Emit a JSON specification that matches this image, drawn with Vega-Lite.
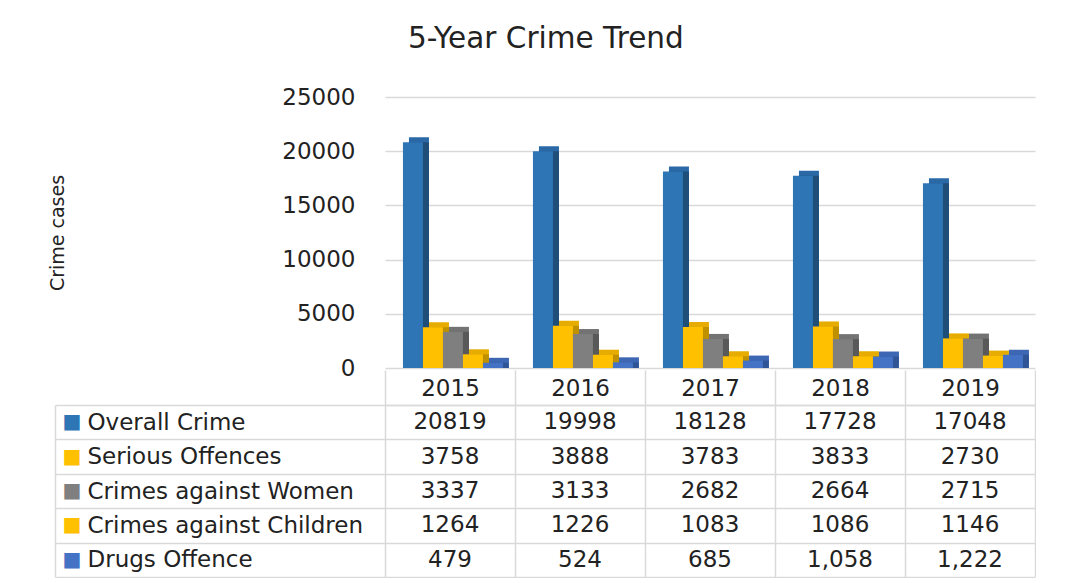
{
  "$schema": "https://vega.github.io/schema/vega-lite/v6.json",
  "background": "white",
  "padding": {"left": 48, "top": 23, "right": 0, "bottom": 0},
  "config": {"font": "DejaVu Sans", "view": {"stroke": null}},
  "title": {"text": "5-Year Crime Trend", "fontSize": 29.5, "fontWeight": "normal", "color": "#222222", "anchor": "middle", "offset": 32, "dx": 4},
  "data": {"values": [
    {"year": "2015", "series": "Overall Crime", "value": 20819},
    {"year": "2016", "series": "Overall Crime", "value": 19998},
    {"year": "2017", "series": "Overall Crime", "value": 18128},
    {"year": "2018", "series": "Overall Crime", "value": 17728},
    {"year": "2019", "series": "Overall Crime", "value": 17048},
    {"year": "2015", "series": "Serious Offences", "value": 3758},
    {"year": "2016", "series": "Serious Offences", "value": 3888},
    {"year": "2017", "series": "Serious Offences", "value": 3783},
    {"year": "2018", "series": "Serious Offences", "value": 3833},
    {"year": "2019", "series": "Serious Offences", "value": 2730},
    {"year": "2015", "series": "Crimes against Women", "value": 3337},
    {"year": "2016", "series": "Crimes against Women", "value": 3133},
    {"year": "2017", "series": "Crimes against Women", "value": 2682},
    {"year": "2018", "series": "Crimes against Women", "value": 2664},
    {"year": "2019", "series": "Crimes against Women", "value": 2715},
    {"year": "2015", "series": "Crimes against Children", "value": 1264},
    {"year": "2016", "series": "Crimes against Children", "value": 1226},
    {"year": "2017", "series": "Crimes against Children", "value": 1083},
    {"year": "2018", "series": "Crimes against Children", "value": 1086},
    {"year": "2019", "series": "Crimes against Children", "value": 1146},
    {"year": "2015", "series": "Drugs Offence", "value": 479},
    {"year": "2016", "series": "Drugs Offence", "value": 524},
    {"year": "2017", "series": "Drugs Offence", "value": 685},
    {"year": "2018", "series": "Drugs Offence", "value": 1058},
    {"year": "2019", "series": "Drugs Offence", "value": 1222}
  ]},
  "bounds": "flush",
  "spacing": 37,
  "resolve": {"scale": {"color": "independent", "fill": "independent"}, "legend": {"color": "independent", "fill": "independent"}},
  "vconcat": [
    {
      "width": 650,
      "height": 271,
      "resolve": {"scale": {"fill": "independent", "xOffset": "independent"}},
      "encoding": {
        "x": {"field": "year", "type": "ordinal", "scale": {"paddingInner": 0.23, "paddingOuter": 0.115}, "axis": null},
        "y": {"field": "value", "type": "quantitative", "scale": {"domain": [0, 25000], "nice": false},
          "axis": {"values": [0, 5000, 10000, 15000, 20000, 25000], "format": "d", "ticks": false, "domain": false, "labelPadding": 30, "labelFontSize": 23, "labelColor": "#222222", "gridColor": "#d9d9d9", "gridWidth": 1.5,
            "title": "Crime cases", "titleFontSize": 19, "titleFontWeight": "normal", "titleColor": "#222222", "titleX": -318}}
      },
      "layer": [
        {
          "mark": {"type": "bar", "yOffset": -5},
          "encoding": {
            "xOffset": {"field": "series", "type": "nominal", "sort": ["Overall Crime", "Serious Offences", "Crimes against Women", "Crimes against Children", "Drugs Offence"], "scale": {"range": [9, 109], "paddingInner": 0, "paddingOuter": 0}},
            "fill": {"field": "series", "type": "nominal", "scale": {"domain": ["Overall Crime", "Serious Offences", "Crimes against Women", "Crimes against Children", "Drugs Offence"], "range": ["#2a69a6", "#e6ad00", "#737373", "#e6ad00", "#3d66b3"]}, "legend": null}
          }
        },
        {
          "mark": {"type": "bar"},
          "encoding": {
            "xOffset": {"field": "series", "type": "nominal", "sort": ["Overall Crime", "Serious Offences", "Crimes against Women", "Crimes against Children", "Drugs Offence"], "scale": {"range": [9, 109], "paddingInner": 0, "paddingOuter": 0}},
            "fill": {"field": "series", "type": "nominal", "scale": {"domain": ["Overall Crime", "Serious Offences", "Crimes against Women", "Crimes against Children", "Drugs Offence"], "range": ["#1f4e79", "#bf9000", "#595959", "#bf9000", "#2f5597"]}, "legend": null}
          }
        },
        {
          "mark": {"type": "bar"},
          "encoding": {
            "xOffset": {"field": "series", "type": "nominal", "sort": ["Overall Crime", "Serious Offences", "Crimes against Women", "Crimes against Children", "Drugs Offence"], "scale": {"range": [3, 103], "paddingInner": 0, "paddingOuter": 0}},
            "color": {"field": "series", "type": "nominal", "scale": {"domain": ["Overall Crime", "Serious Offences", "Crimes against Women", "Crimes against Children", "Drugs Offence"], "range": ["#2e75b6", "#ffc000", "#7f7f7f", "#ffc000", "#4472c4"]}, "legend": null}
          }
        }
      ]
    },
    {
      "width": 650,
      "height": 172,
      "resolve": {"axis": {"y": "independent"}},
      "encoding": {
        "x": {"field": "year", "type": "ordinal", "scale": {"paddingInner": 0, "paddingOuter": 0},
          "axis": {"orient": "top", "title": null, "labelAngle": 0, "labelFontSize": 23, "labelColor": "#222222", "labelPadding": -18, "labelBaseline": "middle", "tickBand": "extent", "tickSize": 35, "tickColor": "#d9d9d9", "tickWidth": 1.5, "domainColor": "#d9d9d9", "domainWidth": 1.5, "grid": true, "gridColor": "#d9d9d9", "gridWidth": 1.5}},
        "text": {"condition": {"test": "datum.series === 'Drugs Offence'", "field": "value", "type": "quantitative", "format": ",d"}, "field": "value", "type": "quantitative", "format": "d"}
      },
      "layer": [
        {
          "mark": {"type": "text", "fontSize": 23, "color": "#222222", "baseline": "middle"},
          "encoding": {
            "y": {"field": "series", "type": "nominal", "sort": ["Overall Crime", "Serious Offences", "Crimes against Women", "Crimes against Children", "Drugs Offence"], "scale": {"paddingInner": 0, "paddingOuter": 0},
              "axis": {"orient": "left", "title": null, "offset": 330, "domain": true, "domainColor": "#d9d9d9", "domainWidth": 1.5, "tickBand": "extent", "tickSize": -330, "tickColor": "#d9d9d9", "tickWidth": 1.5, "labelAlign": "left", "labelBaseline": "middle", "labelPadding": 298, "labelFontSize": 23, "labelColor": "#222222", "labelLimit": 0, "grid": true, "gridColor": "#d9d9d9", "gridWidth": 1.5}}
          }
        },
        {
          "mark": {"type": "text", "fontSize": 23, "opacity": 0},
          "encoding": {
            "y": {"field": "series", "type": "nominal", "sort": ["Overall Crime", "Serious Offences", "Crimes against Women", "Crimes against Children", "Drugs Offence"],
              "axis": {"orient": "left", "title": null, "offset": 330, "domain": false, "ticks": false, "grid": false, "labelExpr": "'■'", "labelAlign": "left", "labelBaseline": "middle", "labelPadding": -7, "labelFontSize": 20,
                "labelColor": {"condition": [
                  {"test": "datum.value === 'Overall Crime'", "value": "#2e75b6"},
                  {"test": "datum.value === 'Serious Offences'", "value": "#ffc000"},
                  {"test": "datum.value === 'Crimes against Women'", "value": "#7f7f7f"},
                  {"test": "datum.value === 'Crimes against Children'", "value": "#ffc000"}
                ], "value": "#4472c4"}}}
          }
        }
      ]
    }
  ]
}
